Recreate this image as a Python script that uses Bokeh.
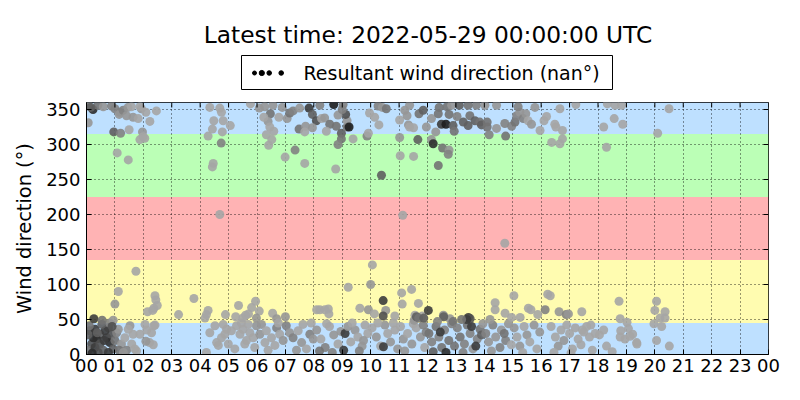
from bokeh.plotting import figure
from bokeh.layouts import column
from bokeh.models import ColumnDataSource, Range1d, FixedTicker, BoxAnnotation, LinearColorMapper
from bokeh.core.properties import value
from bokeh.embed import file_html
from bokeh.resources import INLINE

hour = [
    # 00-01 calm cluster
    0.12, 0.30, 0.47, 0.36, 0.18, 0.06, 0.30, 0.47, 0.59, 0.71, 0.77, 0.82, 0.88, 0.94, 0.65, 0.54, 0.24, 0.41,
    0.77, 1.00, 1.06, 1.12, 0.10, 0.82, 0.26, 0.55, 0.94, 1.00, 1.12, 1.74, 0.05, 0.20, 0.62, 0.90, 0.38,
    # 01-08 low sector
    1.23, 1.35, 1.53, 1.64, 1.59, 1.41, 1.70, 1.15, 1.30, 1.47, 1.88, 1.76,
    2.06, 2.12, 2.29, 2.37, 2.22, 2.35, 2.09, 2.41,
    2.41, 2.44, 2.37, 2.49, 2.33, 2.15, 3.78, 3.24, 4.28, 4.22, 4.17, 4.89, 5.35, 5.25, 5.60, 5.50, 5.70,
    5.81, 5.95, 6.08, 5.98, 6.55, 6.69, 7.00, 8.10,
    4.22, 4.34, 4.52, 4.58, 4.75, 4.87, 4.93, 4.64, 4.99, 4.81,
    5.10, 5.28, 5.40, 5.51, 5.63, 5.75, 5.87, 5.57, 5.98, 5.92, 5.22, 5.45, 5.69, 6.10,
    6.16, 6.33, 6.51, 6.69, 6.80, 6.92, 6.63, 6.39, 6.75, 7.03, 6.28,
    7.15, 7.27, 7.45, 7.57, 7.62, 7.86, 7.98, 7.74, 7.39, 7.91,
    # 08-10
    8.10, 8.25, 8.40, 8.55, 8.70, 8.85, 8.20, 8.95, 8.65, 8.45, 8.21, 8.51, 8.53, 8.39,
    9.05, 9.10, 9.20, 9.30, 9.45, 9.55, 9.70, 9.80, 9.90, 9.60, 9.35, 9.75, 9.21, 9.62, 9.92,
    # 10-12
    10.05, 10.20, 10.35, 10.50, 10.60, 10.70, 10.85, 10.95, 10.45, 10.25, 10.80, 10.06, 10.00, 10.44, 10.53,
    10.44, 10.13, 10.85,
    11.05, 11.15, 11.30, 11.45, 11.60, 11.75, 11.90, 11.85, 11.20, 11.50, 11.95, 11.09, 11.44, 11.11, 11.68,
    11.56, 11.82, 11.53, 11.61, 11.69, 11.87,
    # 12-14
    12.05, 12.15, 12.30, 12.40, 12.50, 12.60, 12.75, 12.85, 12.95, 12.20, 12.65, 12.45, 12.03, 12.56, 12.79,
    12.57, 12.90, 12.35,
    13.05, 13.15, 13.30, 13.40, 13.50, 13.60, 13.75, 13.85, 13.95, 13.25, 13.70, 13.55, 13.44, 13.50, 13.38,
    13.20, 13.90,
    # 14-16
    14.05, 14.15, 14.30, 14.40, 14.55, 14.60, 14.75, 14.85, 14.95, 14.25, 14.70, 14.38, 14.38, 14.73, 14.96,
    14.72, 14.20,
    15.05, 15.15, 15.25, 15.40, 15.50, 15.60, 15.75, 15.85, 15.95, 15.35, 15.04, 15.26, 15.55, 15.64, 15.88,
    16.14, 16.23,
    # 16-21
    16.35, 16.50, 16.60, 16.70, 16.80, 16.90, 17.00, 17.10, 17.20, 17.30, 17.40, 17.50, 17.60, 17.70, 17.80,
    17.90, 18.05, 18.20, 18.30, 18.50, 16.45, 17.05, 17.45, 17.75, 16.32, 16.63, 16.88, 16.96, 17.43,
    18.74, 18.78, 18.80, 18.78, 18.95, 19.13, 19.22, 19.36, 19.07, 19.02, 20.06, 20.00, 20.36, 20.18, 20.36,
    19.97, 20.24, 20.06, 20.51, 19.37,
    # northerly sector
    0.23, 0.06, 0.05, 0.40, 0.15, 0.59, 0.88, 1.00, 1.17, 1.15, 1.29, 1.41, 1.46, 1.58, 1.64, 1.82, 1.93, 1.88,
    2.09, 2.23, 2.46, 0.96, 1.20, 1.50, 1.97, 1.99, 1.88, 2.05, 1.08, 1.47,
    4.69, 4.28, 4.43, 4.48, 4.81, 4.75, 4.34, 4.69, 4.78, 5.06, 4.74, 4.46, 4.43,
    5.77, 6.08, 6.27, 6.47, 6.56, 6.77, 6.89, 6.39, 6.24, 6.45, 6.59, 6.33, 6.52, 6.41, 7.06, 6.99, 7.34, 7.68,
    7.15, 7.27, 7.50, 7.83, 7.95, 8.09, 8.21, 7.48, 7.71, 7.68, 7.95,
    8.27, 8.38, 8.56, 8.79, 8.44, 8.97, 8.97, 8.85, 8.77, 9.17, 9.17, 9.12, 8.85, 9.00, 8.70, 9.03, 9.24, 9.38,
    9.96, 10.14, 10.29, 9.87, 9.92, 10.38, 10.26, 10.41, 10.55,
    11.02, 11.02, 11.04, 11.13, 11.20, 11.28, 11.33, 11.37, 11.51, 11.37, 11.51, 11.66, 11.70, 11.85, 11.96,
    12.14, 12.20, 12.53, 12.76, 12.73, 12.38, 12.14, 12.29, 12.38, 12.41, 12.49, 12.65, 12.76, 12.69, 12.90,
    12.94, 12.85,
    13.04, 13.26, 13.43, 13.49, 13.67, 13.84, 13.90, 14.10, 14.10, 14.17, 14.43, 14.72, 14.75, 14.43, 14.02,
    13.72, 13.43, 13.12,
    14.96, 15.08, 15.14, 15.25, 15.37, 15.46, 15.54, 15.66, 15.78, 15.19,
    15.96, 16.10, 16.19, 16.48, 16.52, 16.66, 16.75, 16.75, 16.66, 16.37, 17.22,
    18.20, 18.30, 18.33, 18.60, 18.57, 18.83, 18.87, 20.10, 20.50,
]

direction = [
    34, 36, 29, 22, 15, 6, 10, 15, 6, 24, 38, 17, 29, 8, 34, 43, 24, 3,
    3, 20, 31, 36, 41, 45, 51, 49, 49, 72, 90, 119, 28, 2, 20, 40, 31,
    15, 24, 41, 29, 15, 6, 8, 6, 3, 36, 29, 5,
    43, 35, 31, 41, 17, 14, 19, 42,
    84, 78, 66, 70, 63, 61, 80, 57, 63, 57, 52, 57, 70, 54, 56, 52, 58,
    67, 76, 62, 52, 59, 51, 54, 64,
    3, 31, 41, 17, 24, 29, 36, 13, 15, 43,
    34, 41, 29, 36, 20, 31, 24, 15, 41, 10, 8, 45, 43, 29,
    43, 34, 24, 38, 29, 20, 13, 6, 45, 41, 17,
    31, 24, 34, 17, 43, 29, 22, 8, 6, 45,
    35, 22, 10, 40, 28, 15, 5, 33, 3, 44, 64, 65, 58, 64,
    6, 30, 40, 18, 35, 25, 12, 42, 30, 5, 45, 20, 96, 66, 64,
    38, 25, 12, 42, 30, 18, 35, 8, 11, 45, 45, 128, 100, 77, 63,
    55, 58, 55,
    40, 22, 30, 15, 38, 25, 10, 42, 5, 44, 32, 88, 93, 72, 73,
    56, 55, 49, 54, 52, 52,
    30, 18, 40, 25, 10, 35, 20, 44, 12, 4, 3, 32, 63, 56, 51,
    54, 47, 47,
    38, 25, 15, 42, 30, 8, 22, 36, 44, 3, 12, 40, 53, 51, 50,
    50, 28,
    30, 18, 42, 25, 10, 35, 20, 44, 14, 5, 30, 74, 64, 59, 53,
    159, 50,
    38, 25, 12, 40, 28, 18, 42, 8, 32, 3, 84, 53, 66, 64, 57,
    64, 86,
    40, 25, 12, 35, 20, 42, 30, 8, 38, 22, 14, 32, 40, 25, 6,
    30, 28, 35, 12, 4, 3, 2, 35, 42, 84, 61, 57, 58, 61,
    76, 51, 34, 25, 22, 26, 29, 17, 37, 46, 76, 63, 61, 52, 52,
    44, 40, 20, 12, 15,
    350, 331, 357, 356, 353, 354, 355, 351, 346, 343, 349, 341, 353, 354, 339, 337, 351, 354,
    346, 333, 348, 318, 316, 321, 318, 311, 307, 309, 288, 278,
    200, 312, 322, 334, 334, 346, 353, 352, 318, 327, 302, 273, 268,
    358, 352, 354, 344, 356, 339, 353, 333, 339, 325, 319, 314, 307, 299, 337, 282, 292, 273,
    345, 348, 352, 352, 343, 334, 356, 322, 326, 318, 324,
    337, 338, 329, 326, 319, 316, 308, 300, 265, 325, 334, 343, 342, 350, 357, 357, 325, 308,
    345, 339, 328, 312, 316, 256, 355, 353, 351,
    335, 310, 284, 199, 349, 341, 328, 325, 324, 356, 283, 307, 344, 349, 325,
    307, 301, 295, 292, 286, 270, 337, 318, 344, 353, 329, 329, 343, 354, 327,
    319, 356,
    340, 332, 327, 341, 334, 332, 328, 332, 325, 314, 323, 330, 312, 356, 356,
    356, 356, 356,
    326, 332, 341, 346, 337, 344, 334, 329, 353, 354,
    320, 334, 340, 329, 325, 351, 320, 308, 301, 303, 357,
    325, 296, 358, 356, 337, 356, 329, 316, 351,
]

speed = [
    7, 8, 6, 9, 7, 5, 8, 7, 6, 8, 5, 9, 7, 6, 8, 6, 9, 7,
    8, 5, 4, 3, 5, 4, 8, 5, 3, 3, 2, 2, 6, 9, 8, 7, 6,
    3, 2, 3, 2, 2, 4, 2, 5, 3, 2, 2, 2,
    2, 2, 2, 2, 2, 2, 3, 2,
    2, 2, 2, 2, 2, 2, 2, 2, 2, 2, 2, 2, 2, 2, 2, 2, 2,
    2, 2, 2, 3, 2, 3, 3, 2,
    2, 2, 2, 2, 2, 2, 2, 2, 2, 2,
    2, 2, 2, 2, 2, 2, 2, 2, 3, 2, 2, 2, 2, 3,
    3, 2, 2, 4, 2, 3, 2, 2, 2, 4, 2,
    3, 4, 2, 3, 2, 4, 3, 2, 3, 2,
    3, 2, 4, 2, 3, 2, 5, 3, 4, 2, 2, 2, 2, 2,
    8, 8, 3, 2, 3, 2, 3, 2, 2, 4, 2, 3, 2, 2, 3,
    2, 3, 2, 3, 2, 3, 2, 3, 8, 2, 2, 2, 3, 8, 3,
    7, 2, 2,
    2, 3, 2, 3, 2, 3, 2, 4, 3, 2, 4, 2, 2, 2, 2,
    2, 2, 3, 6, 5, 6,
    5, 4, 5, 4, 5, 4, 5, 4, 5, 6, 9, 8, 8, 3, 3,
    6, 5, 4,
    4, 5, 4, 5, 4, 3, 4, 5, 3, 4, 8, 8, 8, 7, 8,
    5, 6,
    4, 3, 4, 3, 4, 3, 4, 3, 2, 3, 5, 2, 2, 2, 2,
    2, 3,
    3, 2, 3, 2, 3, 2, 3, 2, 3, 2, 2, 2, 2, 2, 2,
    4, 2,
    2, 2, 3, 2, 3, 2, 2, 2, 2, 2, 2, 2, 2, 2, 2,
    2, 2, 2, 2, 2, 2, 2, 2, 2, 2, 3, 4, 3, 2,
    2, 2, 2, 2, 2, 2, 2, 2, 2, 2, 2, 2, 2, 2, 2,
    2, 2, 2, 2, 2,
    9, 3, 5, 5, 6, 3, 4, 4, 4, 3, 4, 3, 3, 2, 3, 2, 3, 2,
    2, 2, 2, 6, 4, 2, 3, 2, 2, 2, 2, 2,
    2, 2, 2, 2, 2, 2, 2, 2, 2, 2, 4, 2, 2,
    2, 3, 3, 5, 3, 2, 3, 3, 2, 2, 2, 2, 2, 2, 3, 2, 4, 2,
    5, 4, 3, 8, 6, 7, 4, 5, 3, 2, 3,
    2, 3, 5, 5, 2, 6, 5, 4, 2, 5, 3, 7, 3, 4, 10, 4, 10, 2,
    2, 2, 2, 4, 2, 6, 4, 3, 5,
    2, 3, 2, 2, 3, 3, 3, 2, 2, 3, 2, 6, 5, 6, 3,
    3, 9, 5, 3, 4, 5, 3, 3, 5, 5, 8, 10, 5, 5, 6,
    5, 3,
    4, 6, 6, 5, 6, 5, 6, 5, 5, 4, 3, 4, 5, 3, 3,
    4, 5, 6,
    4, 5, 4, 3, 4, 3, 2, 3, 3, 4,
    2, 2, 2, 2, 2, 2, 2, 2, 2, 2, 2,
    2, 2, 2, 2, 2, 2, 2, 2, 2,
]

assert len(hour) == len(direction) == len(speed), (len(hour), len(direction), len(speed))

# direction sectors (N, E, S, W, N) shaded behind the points
sector_edges = [0, 45, 135, 225, 315, 360]
sector_colors = ["#bee0ff", "#fffcb0", "#ffb3b4", "#bbffb6", "#bee0ff"]

hour_ticks = list(range(25))
hour_labels = ["%02d" % (h % 24) for h in hour_ticks]
dir_ticks = [0, 50, 100, 150, 200, 250, 300, 350]

title_text = "Latest time: 2022-05-29 00:00:00 UTC"
legend_text = "Resultant wind direction (nan°)"

FONT = "DejaVu Sans"
W = 792

# ---- header strip: title and legend box in page pixels (its frame is aligned
# with the chart frame below, which spans x = 86..768)
head = figure(width=W, height=100, x_range=Range1d(86, 768), y_range=Range1d(100, 0),
              x_axis_type=None, y_axis_type=None, min_border=0,
              output_backend="svg", toolbar_location=None)
head.outline_line_color = None
head.grid.visible = False

head.text(x=[427.5], y=[34], text=[title_text], text_font=value(FONT), text_font_size="23.3px",
          text_align="center", text_baseline="middle", text_color="black")
head.quad(left=[241], right=[612], top=[55], bottom=[89], fill_color="white",
          line_color="black", line_width=1)
head.scatter(x=[254, 261.3, 268.7, 280.7], y=[72.5] * 4, size=[4, 5.2, 4.6, 4.6],
             color="black")
head.text(x=[303], y=[72], text=[legend_text], text_font=value(FONT), text_font_size="19px",
          text_align="left", text_baseline="middle", text_color="black")

# ---- main chart
p = figure(frame_width=682, frame_height=252,
           min_border_left=86, min_border_right=24, min_border_top=2, min_border_bottom=38,
           x_range=Range1d(0, 24), y_range=Range1d(0, 360),
           output_backend="svg", toolbar_location=None)
p.outline_line_color = "black"
p.background_fill_color = "white"

for i in range(len(sector_colors)):
    p.add_layout(BoxAnnotation(bottom=sector_edges[i], top=sector_edges[i + 1],
                               fill_color=sector_colors[i], fill_alpha=1.0,
                               line_alpha=0, level="image"))

grays = ["#%02x%02x%02x" % (g, g, g) for g in range(165, 25, -5)]
mapper = LinearColorMapper(palette=grays, low=2, high=10)

src = ColumnDataSource(dict(hour=hour, direction=direction, speed=speed))
p.scatter("hour", "direction", source=src, size=9, line_color=None,
          fill_color={"field": "speed", "transform": mapper}, fill_alpha=0.9)

# axes styled like matplotlib classic: inward ticks
p.xaxis.ticker = FixedTicker(ticks=hour_ticks)
p.xaxis.major_label_overrides = {h: lab for h, lab in zip(hour_ticks, hour_labels)}
p.yaxis.ticker = FixedTicker(ticks=dir_ticks)
p.yaxis.axis_label = "Wind direction (°)"

for ax in [p.xaxis[0], p.yaxis[0]]:
    ax.major_tick_in = 5
    ax.major_tick_out = 0
    ax.minor_tick_line_color = None
    ax.major_label_text_font = FONT
    ax.major_label_text_font_size = "18px"
    ax.major_label_text_color = "black"
    ax.axis_label_text_font = FONT
    ax.axis_label_text_font_size = "19.4px"
    ax.axis_label_text_font_style = "normal"
    ax.axis_label_text_color = "black"
    ax.axis_line_color = "black"
p.xaxis.major_label_standoff = 4
p.yaxis.major_label_standoff = 6
p.yaxis.axis_label_standoff = 7

# inward ticks on the top and right edges too
tick_dy = 5 * 360 / 252
tick_dx = 5 * 24 / 682
p.segment(x0=hour_ticks, y0=[360] * len(hour_ticks), x1=hour_ticks, y1=[360 - tick_dy] * len(hour_ticks),
          line_color="black", line_width=1)
p.segment(x0=[24] * len(dir_ticks), y0=dir_ticks, x1=[24 - tick_dx] * len(dir_ticks), y1=dir_ticks,
          line_color="black", line_width=1)

p.xgrid.ticker = FixedTicker(ticks=hour_ticks)
p.ygrid.ticker = FixedTicker(ticks=dir_ticks)
for g in [p.xgrid[0], p.ygrid[0]]:
    g.grid_line_color = "black"
    g.grid_line_dash = "1 3"
    g.grid_line_width = 1
    g.grid_line_alpha = 0.8

layout = column(head, p, spacing=0)
open("out.html", "w").write(file_html(layout, INLINE))
